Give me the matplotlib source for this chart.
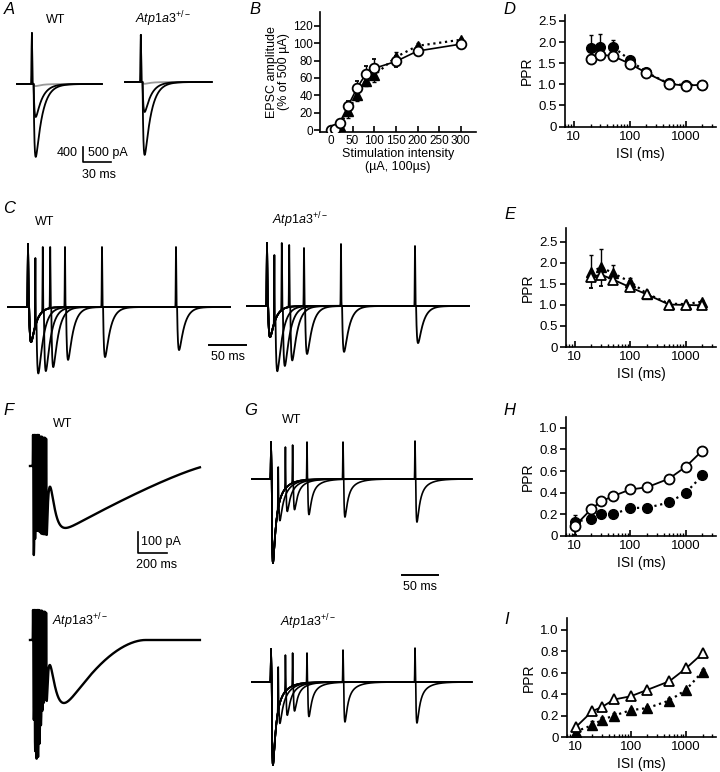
import numpy as np
import matplotlib.pyplot as plt
from matplotlib.ticker import LogLocator, NullFormatter

plt.rcParams['font.family'] = ['Liberation Sans', 'DejaVu Sans']
plt.rcParams['mathtext.fontset'] = 'custom'
plt.rcParams['mathtext.rm'] = 'Liberation Sans'
plt.rcParams['mathtext.it'] = 'Liberation Sans:italic'
plt.rcParams['axes.linewidth'] = 1.2

HET = r'$\mathit{Atp1a3}^{\mathrm{+/-}}$'

# ---------------- summary data ----------------
# B: input-output curve
b_int = [0, 10, 20, 40, 60, 80, 100, 150, 200, 300]
b_open = [0, 1, 8, 28, 48, 64, 71, 79, 91, 99]
b_open_err = [1, 1, 3, 5, 9, 10, 11, 6, 3, 2]
b_tri = [0, 0, 5, 22, 40, 57, 63, 84, 97, 104]
b_tri_err = [1, 1, 3, 8, 7, 6, 8, 6, 3, 2]

# D, E: paired-pulse ratio
de_isi = [20, 30, 50, 100, 200, 500, 1000, 2000]
d_fill = [1.86, 1.89, 1.89, 1.58, 1.28, 1.02, 0.98, 0.99]
d_fill_err = [0.30, 0.29, 0.15, 0.05, 0.03, 0.02, 0.02, 0.02]
d_open = [1.60, 1.70, 1.67, 1.49, 1.27, 1.01, 0.97, 0.99]
e_fill = [1.78, 1.90, 1.75, 1.55, 1.27, 1.03, 1.02, 1.08]
e_fill_err = [0.40, 0.44, 0.20, 0.08, 0.03, 0.02, 0.02, 0.03]
e_open = [1.67, 1.72, 1.60, 1.42, 1.25, 1.01, 1.00, 0.99]
e_open_err = [0.27, 0.28, 0.08, 0.04, 0.03, 0.02, 0.02, 0.02]

# H, I: paired-pulse ratio
hi_isi = [10, 20, 30, 50, 100, 200, 500, 1000, 2000]
h_open = [0.09, 0.25, 0.32, 0.37, 0.43, 0.45, 0.53, 0.64, 0.79]
h_open_err = [0.08, 0.03, 0.02, 0.02, 0.02, 0.02, 0.02, 0.02, 0.02]
h_fill = [0.13, 0.16, 0.20, 0.20, 0.26, 0.26, 0.31, 0.40, 0.56]
h_fill_err = [0.06, 0.06, 0.02, 0.02, 0.02, 0.02, 0.02, 0.02, 0.02]
i_open = [0.09, 0.24, 0.28, 0.35, 0.38, 0.44, 0.52, 0.64, 0.78]
i_fill = [0.05, 0.11, 0.16, 0.20, 0.25, 0.27, 0.34, 0.44, 0.61]
i_fill_err = [0.03, 0.04, 0.03, 0.02, 0.02, 0.02, 0.02, 0.02, 0.02]

# ---------------- trace parameters (ms, pA) ----------------
# A: single EPSCs at three intensities
a_wt_amp = [70, 1100, 2430]
a_wt_top = [1700, 1700, 1700]
a_het_amp = [60, 1000, 2430]
a_het_top = [1570, 1570, 1570]
a_colors = ['0.6', 'k', 'k']
a_kin = (1.8, 1.0, 7.0, 7.0, 0.0)          # latency, rise, decay, decay2, frac2

# C, G: paired pulses
pp_isi = [10, 20, 30, 50, 100, 200]
c_wt_amp1, c_wt_top1 = 1000, 1800
c_wt_amp2 = [1600, 1760, 1700, 1510, 1430, 1230]
c_wt_top2 = [1400, 1714, 1714, 1714, 1714, 1714]
c_het_amp1, c_het_top1 = 886, 1800
c_het_amp2 = [1600, 1650, 1540, 1370, 1310, 1060]
c_het_top2 = [1457, 1800, 1743, 1657, 1771, 1714]
c_kin = (1.5, 1.3, 7.0, 7.0, 0.0)

g_wt_amp1, g_wt_top1 = 2400, 1057
g_wt_amp2 = [600, 714, 786, 1000, 1086, 1230]
g_wt_top2 = [343, 914, 971, 1057, 1057, 1086]
g_het_amp1, g_het_top1 = 2370, 943
g_het_amp2 = [600, 740, 740, 970, 1140, 1170]
g_het_top2 = [429, 771, 829, 829, 914, 971]
g_kin = (1.0, 0.8, 3.5, 12.0, 0.3)

# F: 100 Hz train + slow current
f_stims = [21, 31, 41, 51, 61, 71, 81, 91, 101, 111]
f_wt_amp = [424, 150, 170, 180, 185, 190, 190, 190, 190, 190]
f_het_amp = [380, 360, 340, 320, 260, 200, 170, 160, 160, 160]
f_wt_top = [148, 148, 148, 148, 148, 140, 140, 135, 135, 130]
f_het_top = [143, 143, 143, 143, 143, 140, 140, 135, 135, 130]
f_kin = (2.0, 1.5, 10.0, 10.0, 0.0)
f_wt_slow = (295, 100, 28, 6, 1110, 1.2)   # amp, onset, rise, power, end, decay power
f_het_slow = (300, 95, 40, 4, 700, 1.8)

W, H = 720, 772
fig = plt.figure(figsize=(7.2, 7.72), dpi=100)


def box(x0, y0, x1, y1):
    return [x0 / W, 1 - y1 / H, (x1 - x0) / W, (y1 - y0) / H]


def text(x, y, s, size=9, ha='center', va='center', **kw):
    fig.text(x / W, 1 - y / H, s, ha=ha, va=va, fontsize=size, **kw)


def letter(x, y, s):
    fig.text(x / W, 1 - y / H, s, ha='left', va='top', fontsize=12, style='italic')


def trace_axes(x0, y0, x1, y1, xt0, sx, yb, sy):
    ax = fig.add_axes(box(x0, y0, x1, y1))
    ax.set_xlim((x0 - xt0) / sx, (x1 - xt0) / sx)
    ax.set_ylim(-(y1 - yb) / sy, (yb - y0) / sy)
    ax.axis('off')
    return ax


def psc(tau, kin):
    lat, tr, td, td2, f2 = kin
    def shape(x):
        x = np.clip(x, 0, None)
        return (1 - f2) * (np.exp(-x / td) - np.exp(-x / tr)) + f2 * (np.exp(-x / td2) - np.exp(-x / tr))
    norm = shape(np.linspace(0, 60, 6001)).max()
    return shape(tau - lat) / norm


def sweep(t, stims, amps, tops, kin, w, extra=None):
    syn = np.zeros_like(t)
    for s, a in zip(stims, amps):
        syn -= a * psc(t - s, kin)
    if extra is not None:
        syn += extra
    out = syn.copy()
    for s, top in zip(stims, tops):
        out += (top - np.interp(s, t, syn)) * np.exp(-((t - s) / w) ** 2)
    return out


def slow_current(t, amp, t_on, tr, n, end, q):
    d = np.clip(t - t_on, 0, None)
    g = (1 - np.exp(-d / tr)) ** n * np.clip(1 - d / end, 0, None) ** q
    return -amp * g / g.max()


# ---------------- A ----------------
letter(4, 2, 'A')
text(56, 20, 'WT')
text(163, 19, HET)
ax = trace_axes(10, 25, 125, 170, 17, 0.933, 84, 0.03)
t = np.arange(0, 91, 0.02)
for amp, top, col in zip(a_wt_amp, a_wt_top, a_colors):
    ax.plot(t, sweep(t, [16], [amp], [top], a_kin, 0.3), color=col, lw=1.3, clip_on=False)
ax.plot([70.7, 70.7, 100.7], [-2100, -2600, -2600], color='k', lw=1.2, clip_on=False)
text(67, 153, '400')
text(108, 153, '500 pA')
text(99, 175, '30 ms')
ax = trace_axes(118, 25, 225, 170, 125, 0.933, 82, 0.03)
t = np.arange(0, 93, 0.02)
for amp, top, col in zip(a_het_amp, a_het_top, a_colors):
    ax.plot(t, sweep(t, [17], [amp], [top], a_kin, 0.3), color=col, lw=1.3, clip_on=False)

# ---------------- B ----------------
letter(249, 2, 'B')
ax = fig.add_axes(box(320, 12, 476, 132))
ax.set_xlim(-25, 335)
ax.set_ylim(-2.3, 136)
ax.spines[['top', 'right']].set_visible(False)
ax.errorbar(b_int, b_tri, yerr=b_tri_err, fmt='^', ls=':', color='k', ms=6.5, lw=1.6,
            elinewidth=1, capsize=1.5, zorder=2)
ax.errorbar(b_int, b_open, yerr=b_open_err, fmt='o', ls='-', color='k', mfc='white', mec='k',
            mew=1.3, ms=7, lw=1.2, elinewidth=1, capsize=1.5, zorder=3)
ax.set_xticks([0, 50, 100, 150, 200, 250, 300])
ax.set_yticks([0, 20, 40, 60, 80, 100, 120])
ax.tick_params(axis='x', direction='in', length=4, width=1.2, labelsize=8.5, pad=2)
ax.tick_params(axis='y', direction='out', length=4, width=1.2, labelsize=8.5, pad=1)
ax.set_xlabel('Stimulation intensity\n(µA, 100µs)', fontsize=9, labelpad=1, linespacing=1.1)
ax.set_ylabel('EPSC amplitude\n(% of 500 µA)', fontsize=9, labelpad=2, linespacing=1.1)


def ppr_axes(x0, y0, x1, y1, ylim, yticks, ylabels):
    ax = fig.add_axes(box(x0, y0, x1, y1))
    ax.set_xscale('log')
    ax.set_xlim(7, 3500)
    ax.set_ylim(*ylim)
    ax.spines[['top', 'right']].set_visible(False)
    ax.set_yticks(yticks, ylabels)
    ax.set_xticks([10, 100, 1000], ['10', '100', '1000'])
    ax.xaxis.set_minor_locator(LogLocator(subs=np.arange(2, 10)))
    ax.xaxis.set_minor_formatter(NullFormatter())
    ax.tick_params(axis='x', which='major', direction='in', length=4, width=1.2, labelsize=9.5, pad=3)
    ax.tick_params(axis='x', which='minor', direction='in', length=2, width=1)
    ax.tick_params(axis='y', direction='out', length=4, width=1.2, labelsize=9.5, pad=2)
    ax.set_xlabel('ISI (ms)', fontsize=10, labelpad=3)
    ax.set_ylabel('PPR', fontsize=10, labelpad=3)
    return ax


def series(ax, x, y, err, marker, filled, down=False):
    n = len(y)
    if err is None:
        err = [0] * n
    yerr = [err, [0] * n] if down else ([[0] * n, err] if filled else err)
    if filled:
        ax.errorbar(x, y, yerr=yerr, fmt=marker, ls=':', color='k', ms=7, lw=1.6,
                    elinewidth=1, capsize=1.5, zorder=2)
    else:
        ax.errorbar(x, y, yerr=yerr, fmt=marker, ls='-', color='k', mfc='white', mec='k',
                    mew=1.3, ms=7.2, lw=1.3, elinewidth=1, capsize=1.5, zorder=3)


ppr_ticks = [0, 0.5, 1.0, 1.5, 2.0, 2.5]
ppr_labels = ['0', '0.5', '1.0', '1.5', '2.0', '2.5']
low_ticks = [0, 0.2, 0.4, 0.6, 0.8, 1.0]
low_labels = ['0', '0.2', '0.4', '0.6', '0.8', '1.0']

# ---------------- D ----------------
letter(503, 2, 'D')
ax = ppr_axes(565, 15, 716, 127, (-0.01, 2.64), ppr_ticks, ppr_labels)
series(ax, de_isi, d_fill, d_fill_err, 'o', True)
series(ax, de_isi, d_open, None, 'o', False)

# ---------------- E ----------------
letter(504, 207, 'E')
ax = ppr_axes(566, 228, 716, 347, (0, 2.83), ppr_ticks, ppr_labels)
series(ax, de_isi, e_fill, e_fill_err, '^', True)
series(ax, de_isi, e_open, e_open_err, '^', False, down=True)

# ---------------- H ----------------
letter(503, 403, 'H')
ax = ppr_axes(566, 417, 716, 536, (0, 1.10), low_ticks, low_labels)
series(ax, hi_isi, h_fill, h_fill_err, 'o', True)
series(ax, hi_isi, h_open, h_open_err, 'o', False, down=True)

# ---------------- I ----------------
letter(504, 612, 'I')
ax = ppr_axes(567, 618, 716, 737, (0, 1.11), low_ticks, low_labels)
series(ax, hi_isi, i_fill, i_fill_err, '^', True)
series(ax, hi_isi, i_open, None, '^', False)

# ---------------- C ----------------
letter(3, 201, 'C')
text(45, 222, 'WT')
text(300, 220, HET)
t = np.arange(0, 300, 0.05)
ax = trace_axes(0, 230, 250, 385, 8, 0.74, 307, 0.035)
for isi, a2, top2 in zip(pp_isi, c_wt_amp2, c_wt_top2):
    ax.plot(t, sweep(t, [27, 27 + isi], [c_wt_amp1, a2], [c_wt_top1, top2], c_kin, 0.4),
            color='k', lw=1.3, clip_on=False)
ax.plot([271.6, 321.6], [-1086, -1086], color='k', lw=1.4, clip_on=False)
text(228, 357, '50 ms')
ax = trace_axes(240, 230, 490, 385, 247, 0.74, 306, 0.035)
for isi, a2, top2 in zip(pp_isi, c_het_amp2, c_het_top2):
    ax.plot(t, sweep(t, [27, 27 + isi], [c_het_amp1, a2], [c_het_top1, top2], c_kin, 0.4),
            color='k', lw=1.3, clip_on=False)

# ---------------- F ----------------
letter(3, 403, 'F')
text(63, 424, 'WT')
text(80, 621, HET)
t = np.arange(0, 1172, 0.2)
ax = trace_axes(20, 425, 210, 590, 30, 0.145, 466, 0.21)
ax.plot(t, sweep(t, f_stims, f_wt_amp, f_wt_top, f_kin, 1.2, slow_current(t, *f_wt_slow)),
        color='k', lw=1.7, clip_on=False)
ax.plot([745, 745, 945], [-314, -414, -414], color='k', lw=1.2, clip_on=False)
text(141, 542, '100 pA', ha='left')
text(157, 565, '200 ms')
ax = trace_axes(20, 600, 210, 772, 30, 0.145, 640, 0.21)
ax.plot(t, sweep(t, f_stims, f_het_amp, f_het_top, f_kin, 1.2, slow_current(t, *f_het_slow)),
        color='k', lw=1.7, clip_on=False)

# ---------------- G ----------------
letter(244, 403, 'G')
text(292, 420, 'WT')
text(308, 622, HET)
t = np.arange(0, 305, 0.05)
ax = trace_axes(245, 430, 480, 600, 252, 0.72, 479, 0.035)
for isi, a2, top2 in zip(pp_isi, g_wt_amp2, g_wt_top2):
    ax.plot(t, sweep(t, [26.4, 26.4 + isi], [g_wt_amp1, a2], [g_wt_top1, top2], g_kin, 0.4),
            color='k', lw=1.2, clip_on=False)
ax.plot([208.3, 258.3], [-2743, -2743], color='k', lw=1.4, clip_on=False)
text(420, 587, '50 ms')
ax = trace_axes(245, 640, 480, 772, 252, 0.72, 682, 0.035)
for isi, a2, top2 in zip(pp_isi, g_het_amp2, g_het_top2):
    ax.plot(t, sweep(t, [26.4, 26.4 + isi], [g_het_amp1, a2], [g_het_top1, top2], g_kin, 0.4),
            color='k', lw=1.2, clip_on=False)

fig.savefig('out.png', dpi=100)
